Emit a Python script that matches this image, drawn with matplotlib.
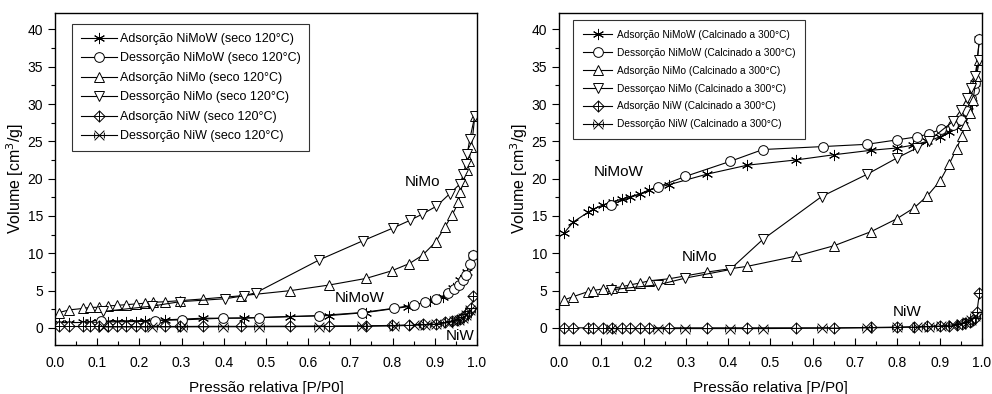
import numpy as np
import matplotlib
matplotlib.use('Agg')
import matplotlib.pyplot as plt
from matplotlib.path import Path

plt.rcParams['font.family'] = ['Liberation Sans', 'DejaVu Sans']

# ---- painel esquerdo (seco 120 C) ----
nimow_ads_x = [0.01, 0.033, 0.067, 0.083, 0.105, 0.126, 0.148, 0.168, 0.191, 0.214, 0.261, 0.351, 0.448,
               0.557, 0.649, 0.737, 0.837, 0.889, 0.92, 0.944, 0.961, 0.976, 0.991]
nimow_ads_y = [0.7, 0.7, 0.72, 0.74, 0.76, 0.78, 0.8, 0.82, 0.84, 0.86, 1.07, 1.29, 1.29,
               1.5, 1.64, 2.05, 2.84, 3.6, 4.18, 5.29, 6.4, 7.5, 9.7]
nimow_des_x = [0.11, 0.237, 0.302, 0.399, 0.483, 0.626, 0.728, 0.803, 0.851, 0.877, 0.904, 0.932,
               0.946, 0.957, 0.966, 0.974, 0.983, 0.991]
nimow_des_y = [0.9, 0.98, 1.07, 1.29, 1.38, 1.64, 2.05, 2.62, 3.07, 3.42, 3.87, 4.62,
               5.15, 5.73, 6.4, 7.07, 8.62, 9.7]
nimo_ads_x = [0.01, 0.033, 0.067, 0.083, 0.105, 0.126, 0.148, 0.168, 0.191, 0.214, 0.233, 0.261, 0.296,
              0.351, 0.442, 0.557, 0.649, 0.737, 0.798, 0.84, 0.871, 0.902, 0.924, 0.941, 0.956, 0.961,
              0.968, 0.976, 0.981, 0.987, 0.995]
nimo_ads_y = [2.05, 2.4, 2.6, 2.75, 2.75, 2.93, 3.02, 3.1, 3.2, 3.3, 3.42, 3.5, 3.64,
              3.87, 4.3, 4.98, 5.73, 6.62, 7.64, 8.62, 9.73, 11.5, 13.5, 15.1, 16.8, 18.2,
              19.7, 21.1, 22.4, 24.2, 28.4]
nimo_des_x = [0.115, 0.229, 0.296, 0.404, 0.448, 0.476, 0.626, 0.731, 0.802, 0.841, 0.869, 0.904,
              0.936, 0.96, 0.968, 0.974, 0.977, 0.983, 0.995]
nimo_des_y = [2.2, 2.9, 3.5, 3.9, 4.3, 4.7, 9.1, 11.7, 13.4, 14.4, 15.2, 16.3,
              18.0, 19.3, 20.6, 22.0, 23.3, 25.3, 28.4]
niw_ads_x = [0.01, 0.033, 0.067, 0.083, 0.105, 0.126, 0.148, 0.168, 0.191, 0.214, 0.261, 0.296, 0.351,
             0.442, 0.557, 0.649, 0.737, 0.798, 0.84, 0.871, 0.902, 0.924, 0.941, 0.952, 0.961, 0.968,
             0.976, 0.981, 0.987, 0.991]
niw_ads_y = [0.18, 0.18, 0.18, 0.18, 0.18, 0.18, 0.18, 0.18, 0.18, 0.18, 0.18, 0.18, 0.2,
             0.2, 0.22, 0.25, 0.28, 0.32, 0.4, 0.48, 0.58, 0.72, 0.88, 1.0, 1.2, 1.45,
             1.8, 2.2, 2.7, 4.2]
niw_des_x = [0.115, 0.229, 0.302, 0.399, 0.483, 0.626, 0.728, 0.803, 0.851, 0.877, 0.904, 0.932,
             0.946, 0.957, 0.966, 0.974, 0.983]
niw_des_y = [0.12, 0.12, 0.13, 0.14, 0.15, 0.17, 0.2, 0.26, 0.34, 0.4, 0.5, 0.7,
             0.85, 1.05, 1.3, 1.7, 2.4]

# ---- painel direito (calcinado a 300 C) ----
c_nimow_ads_x = [0.012, 0.034, 0.069, 0.081, 0.105, 0.127, 0.148, 0.169, 0.191, 0.213, 0.261, 0.35, 0.445,
                 0.56, 0.65, 0.738, 0.798, 0.838, 0.871, 0.901, 0.922, 0.94, 0.956, 0.968, 0.976, 0.983, 0.994]
c_nimow_ads_y = [12.7, 14.2, 15.5, 15.9, 16.5, 16.9, 17.25, 17.6, 17.9, 18.5, 19.2, 20.6, 21.8,
                 22.5, 23.2, 23.8, 24.1, 24.5, 25.0, 25.6, 26.3, 26.9, 27.8, 29.0, 30.1, 32.8, 38.7]
c_nimow_des_x = [0.123, 0.235, 0.299, 0.404, 0.482, 0.625, 0.728, 0.8, 0.846, 0.875, 0.902, 0.932,
                 0.95, 0.964, 0.973, 0.98, 0.983, 0.994]
c_nimow_des_y = [16.5, 18.9, 20.3, 22.3, 23.9, 24.3, 24.6, 25.2, 25.6, 26.0, 26.6, 27.2,
                 27.8, 29.0, 30.8, 31.9, 32.8, 38.7]
c_nimo_ads_x = [0.012, 0.034, 0.069, 0.081, 0.105, 0.125, 0.148, 0.169, 0.191, 0.213, 0.261, 0.35, 0.445,
                0.56, 0.65, 0.738, 0.798, 0.84, 0.871, 0.901, 0.922, 0.94, 0.952, 0.96, 0.971, 0.979,
                0.987, 0.994]
c_nimo_ads_y = [3.74, 4.19, 4.86, 5.0, 5.23, 5.3, 5.5, 5.77, 6.0, 6.3, 6.58, 7.48, 8.24,
                9.6, 11.0, 12.9, 14.6, 16.1, 17.7, 19.7, 21.9, 24.0, 25.7, 27.2, 28.8, 30.6,
                33.7, 35.9]
c_nimo_des_x = [0.123, 0.235, 0.299, 0.404, 0.482, 0.621, 0.729, 0.8, 0.846, 0.875, 0.932, 0.95,
                0.965, 0.975, 0.983, 0.994]
c_nimo_des_y = [5.1, 5.77, 6.67, 7.8, 11.85, 17.6, 20.6, 22.8, 24.1, 25.1, 27.7, 29.2,
                30.8, 32.1, 33.7, 35.9]
c_niw_ads_x = [0.012, 0.034, 0.069, 0.081, 0.105, 0.125, 0.148, 0.169, 0.191, 0.213, 0.261, 0.35, 0.445,
               0.56, 0.65, 0.738, 0.798, 0.84, 0.871, 0.901, 0.922, 0.94, 0.952, 0.96, 0.971, 0.979,
               0.984, 0.988, 0.994]
c_niw_ads_y = [0.0, 0.0, 0.0, 0.0, 0.0, 0.0, 0.0, 0.0, 0.0, 0.0, 0.0, 0.0, 0.0,
               0.0, 0.0, 0.05, 0.1, 0.15, 0.2, 0.25, 0.3, 0.4, 0.5, 0.6, 0.8, 1.0,
               1.3, 2.1, 4.7]
c_niw_des_x = [0.123, 0.235, 0.299, 0.404, 0.482, 0.621, 0.729, 0.8, 0.846, 0.875, 0.902, 0.932,
               0.95, 0.965, 0.975, 0.983]
c_niw_des_y = [-0.1, -0.1, -0.1, -0.1, -0.1, -0.05, 0.0, 0.05, 0.1, 0.15, 0.25, 0.4,
               0.55, 0.8, 1.1, 1.6]

# marcadores no estilo Origin
asterisk = (6, 2, 0)
diamond_cross = Path([(0, 1), (1, 0), (0, -1), (-1, 0), (0, 1), (0, 1), (0, -1), (-1, 0), (1, 0)],
                     [Path.MOVETO, Path.LINETO, Path.LINETO, Path.LINETO, Path.CLOSEPOLY,
                      Path.MOVETO, Path.LINETO, Path.MOVETO, Path.LINETO])
x_mark = Path([(-1, -1), (1, 1), (-1, 1), (1, -1), (-1, -0.6), (-1, 0.6), (1, -0.6), (1, 0.6)],
              [Path.MOVETO, Path.LINETO, Path.MOVETO, Path.LINETO,
               Path.MOVETO, Path.LINETO, Path.MOVETO, Path.LINETO])

styles = [
    dict(marker=asterisk, ms=8),
    dict(marker='o', ms=7),
    dict(marker='^', ms=7.5),
    dict(marker='v', ms=7.5),
    dict(marker=diamond_cross, ms=8),
    dict(marker=x_mark, ms=7),
]


def draw(ax, series, labels, leg_opts, texts):
    for (x, y), st, lab in zip(series, styles, labels):
        ax.plot(x, y, color='black', lw=0.8, mec='black', mfc='white', mew=0.7,
                label=lab, **st)
    ax.set_xlim(0, 1.0)
    ax.set_ylim(-2.3, 42.2)
    ax.set_xticks(np.arange(0, 1.01, 0.1))
    ax.set_xticks(np.arange(0.05, 1.0, 0.1), minor=True)
    ax.set_yticks(np.arange(0, 41, 5))
    ax.set_yticks(np.arange(2.5, 41, 5), minor=True)
    ax.xaxis.set_major_formatter(matplotlib.ticker.FormatStrFormatter('%.1f'))
    ax.tick_params(axis='x', direction='in', length=5, width=0.8, labelsize=10, pad=8)
    ax.tick_params(axis='x', which='minor', direction='in', length=3, width=0.8)
    ax.tick_params(axis='y', direction='out', length=5, width=0.8, labelsize=10)
    ax.tick_params(axis='y', which='minor', direction='out', length=3, width=0.8)
    for s in ax.spines.values():
        s.set_linewidth(1.0)
    ax.set_xlabel('Pressão relativa [P/P0]', fontsize=11, labelpad=8)
    ax.set_ylabel('Volume [cm$^3$/g]', fontsize=11.5, labelpad=1)
    leg = ax.legend(loc='upper left', frameon=True, fancybox=False, edgecolor='black',
                    numpoints=1, borderaxespad=0, **leg_opts)
    leg.get_frame().set_linewidth(0.8)
    for t, (tx, ty) in texts.items():
        ax.text(tx, ty, t, fontsize=11, ha='center', va='center')


fig = plt.figure(figsize=(9.92, 3.94), dpi=100)
ax1 = fig.add_axes([0.0554, 0.1244, 0.4254, 0.8426])
ax2 = fig.add_axes([0.5635, 0.1244, 0.4264, 0.8426])

draw(ax1,
     [(nimow_ads_x, nimow_ads_y), (nimow_des_x, nimow_des_y), (nimo_ads_x, nimo_ads_y),
      (nimo_des_x, nimo_des_y), (niw_ads_x, niw_ads_y), (niw_des_x, niw_des_y)],
     ['Adsorção NiMoW (seco 120°C)', 'Dessorção NiMoW (seco 120°C)', 'Adsorção NiMo (seco 120°C)',
      'Dessorção NiMo (seco 120°C)', 'Adsorção NiW (seco 120°C)', 'Dessorção NiW (seco 120°C)'],
     dict(bbox_to_anchor=(0.040, 0.967), fontsize=9.0, handlelength=2.9, handletextpad=0.2,
          borderpad=0.72, labelspacing=0.6),
     {'NiMoW': (0.723, 4.0), 'NiMo': (0.87, 19.6), 'NiW': (0.96, -1.1)})

draw(ax2,
     [(c_nimow_ads_x, c_nimow_ads_y), (c_nimow_des_x, c_nimow_des_y), (c_nimo_ads_x, c_nimo_ads_y),
      (c_nimo_des_x, c_nimo_des_y), (c_niw_ads_x, c_niw_ads_y), (c_niw_des_x, c_niw_des_y)],
     ['Adsorção NiMoW (Calcinado a 300°C)', 'Dessorção NiMoW (Calcinado a 300°C)',
      'Adsorção NiMo (Calcinado a 300°C)', 'Dessorçao NiMo (Calcinado a 300°C)',
      'Adsorção NiW (Calcinado a 300°C)', 'Dessorção NiW (Calcinado a 300°C)'],
     dict(bbox_to_anchor=(0.033, 0.98), fontsize=7.3, handlelength=2.9, handletextpad=0.4,
          borderpad=1.0, labelspacing=0.78),
     {'NiMoW': (0.14, 20.85), 'NiMo': (0.333, 9.46), 'NiW': (0.822, 2.16)})

fig.savefig('out.png', dpi=100)
